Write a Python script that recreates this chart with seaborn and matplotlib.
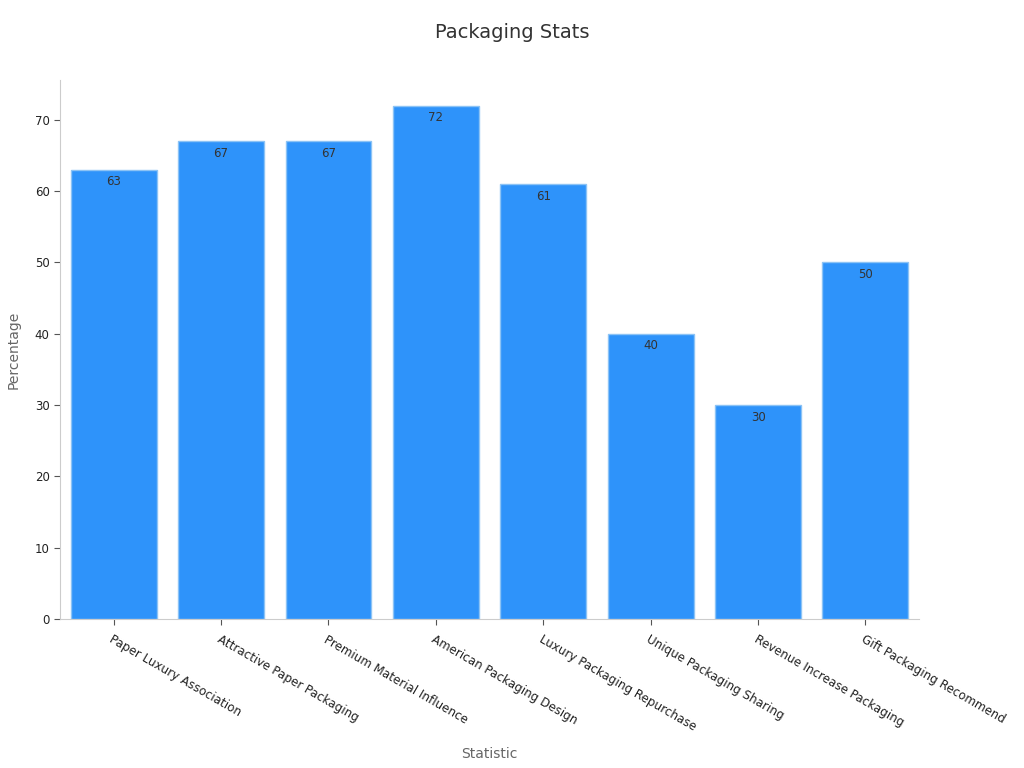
import pandas as pd
import matplotlib
matplotlib.use('Agg')
import matplotlib.pyplot as plt
import seaborn as sns

statistics = ['Paper Luxury Association', 'Attractive Paper Packaging', 'Premium Material Influence',
              'American Packaging Design', 'Luxury Packaging Repurchase', 'Unique Packaging Sharing',
              'Revenue Increase Packaging', 'Gift Packaging Recommend']
percentages = [63, 67, 67, 72, 61, 40, 30, 50]

df = pd.DataFrame({'Statistic': statistics, 'Percentage': percentages})

sns.set_style('white', {'xtick.bottom': True, 'ytick.left': True})
plt.rcParams['font.family'] = ['DejaVu Sans']

fig = plt.figure(figsize=(10.24, 7.68), dpi=100)
ax = fig.add_axes([0.0586, 0.194, 0.839, 0.702])

sns.barplot(x='Statistic', y='Percentage', data=df, color='#2E93FA', saturation=1,
            edgecolor='#8CC3F5', linewidth=1, width=0.8, ax=ax)

# value labels just inside the top of each bar
for i, v in enumerate(percentages):
    ax.annotate(str(v), (i, v), xytext=(0, -4), textcoords='offset points',
                ha='center', va='top', fontsize=8.5, color='#333333')

ax.set_xlim(-0.5, len(statistics) - 0.5)
ax.set_ylim(0, 75.6)
ax.set_xticks(range(len(statistics)))
ax.set_xticklabels(statistics, rotation=-30, ha='left', rotation_mode='anchor', fontsize=8.6, color='#222222')
ax.tick_params(axis='y', labelsize=8.5, labelcolor='#222222', length=4, color='#555555')
ax.tick_params(axis='x', length=4, color='#555555', pad=6)
ax.set_xlabel('Statistic', fontsize=10, color='#666666', labelpad=10)
ax.set_ylabel('Percentage', fontsize=10, color='#666666', labelpad=10)
fig.suptitle('Packaging Stats', fontsize=14, color='#333333', y=0.97)

for side in ['top', 'right']:
    ax.spines[side].set_visible(False)
for side in ['left', 'bottom']:
    ax.spines[side].set_color('#cccccc')

fig.savefig('out.png', dpi=100)
